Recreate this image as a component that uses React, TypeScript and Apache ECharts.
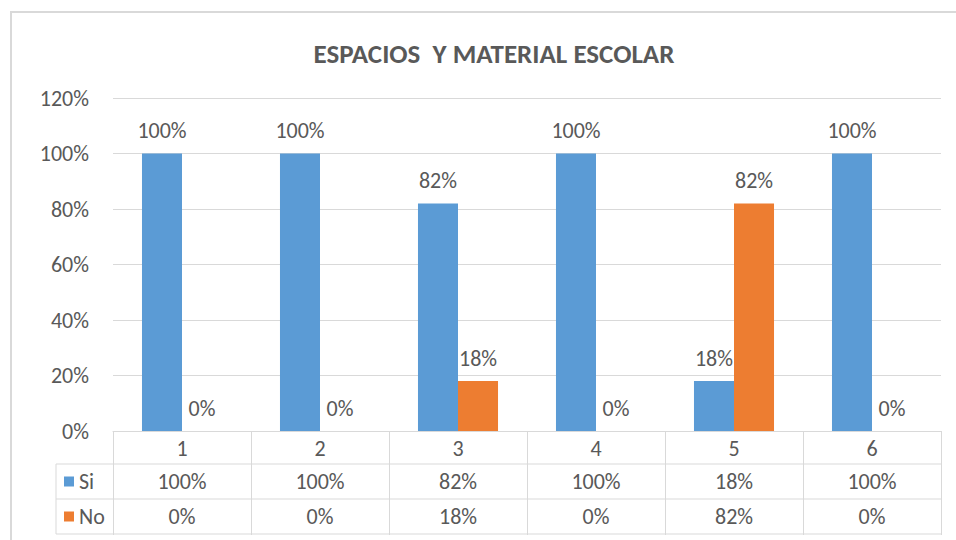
import React, { useEffect, useRef } from "react";
import * as echarts from "echarts";

const titleText = "ESPACIOS  Y MATERIAL ESCOLAR";
const categories = ["1", "2", "3", "4", "5", "6"];
const seriesNames = ["Si", "No"];
const siValues = [100, 100, 82, 100, 18, 100];
const noValues = [0, 0, 18, 0, 82, 0];
const colors = ["#5B9BD5", "#ED7D31"];

const FONT = "Carlito, Lato, 'Open Sans', sans-serif";
const TXT = "#595959";
const LINE = "#D9D9D9";
const FS = 22;

export default function App() {
  const ref = useRef<HTMLDivElement>(null);
  useEffect(() => {
    if (!ref.current) return;
    const chart = echarts.init(ref.current, undefined, { renderer: "svg" });
    const gridLeft = 113;
    const gridRight = 15;
    const gridTop = 98;
    const gridBottom = 109;
    const baseY = 540 - gridBottom;
    const rowH = 35;
    const tableTop = baseY + 33;
    const legendLeft = 56;
    const label = {
      show: true,
      position: "top" as const,
      distance: 12,
      formatter: (p: any) => p.value + "%",
      color: TXT,
      fontSize: FS,
      fontFamily: FONT,
    };
    chart.setOption({
      animation: false,
      backgroundColor: "#fff",
      textStyle: { fontFamily: FONT },
      title: {
        text: titleText,
        left: 489,
        top: 35,
        textAlign: "center",
        textStyle: { fontSize: 27, fontWeight: "bold", color: TXT, fontFamily: FONT },
      },
      grid: { left: gridLeft, right: gridRight, top: gridTop, bottom: gridBottom, containLabel: false },
      xAxis: {
        type: "category",
        data: categories,
        boundaryGap: true,
        axisLine: { show: true, lineStyle: { color: LINE, width: 1 } },
        axisTick: { show: true, length: 104, lineStyle: { color: LINE, width: 1 } },
        axisLabel: { color: TXT, fontSize: FS, fontFamily: FONT, margin: 6 },
      },
      yAxis: {
        type: "value",
        min: 0,
        max: 120,
        interval: 20,
        axisLine: { show: false },
        axisTick: { show: false },
        axisLabel: { formatter: "{value}%", color: TXT, fontSize: FS, fontFamily: FONT, margin: 24 },
        splitLine: { lineStyle: { color: LINE, width: 1 } },
      },
      series: [
        {
          name: seriesNames[0],
          type: "bar",
          data: siValues,
          itemStyle: { color: colors[0] },
          barGap: "0%",
          barCategoryGap: "42%",
          label,
        },
        {
          name: seriesNames[1],
          type: "bar",
          data: noValues,
          itemStyle: { color: colors[1] },
          barGap: "0%",
          barCategoryGap: "42%",
          label,
        },
      ],
    });

    const xs = categories.map((_, i) => chart.convertToPixel({ xAxisIndex: 0 }, i) as number);
    const rightX = 956 - gridRight;
    const g: any[] = [];
    g.push({
      type: "rect",
      shape: { x: 11, y: 12, width: 960, height: 560 },
      style: { fill: "none", stroke: LINE, lineWidth: 2 },
      silent: true,
    });
    [tableTop, tableTop + rowH, tableTop + 2 * rowH].forEach((y) => {
      g.push({
        type: "line",
        shape: { x1: legendLeft, y1: y, x2: rightX, y2: y },
        style: { stroke: LINE, lineWidth: 1 },
      });
    });
    g.push({
      type: "line",
      shape: { x1: legendLeft, y1: tableTop, x2: legendLeft, y2: tableTop + 2 * rowH },
      style: { stroke: LINE, lineWidth: 1 },
    });
    const rows = [siValues, noValues];
    rows.forEach((vals, r) => {
      const cy = tableTop + rowH * r + rowH / 2;
      g.push({
        type: "rect",
        shape: { x: 64, y: cy - 5, width: 10, height: 10 },
        style: { fill: colors[r] },
      });
      g.push({
        type: "text",
        x: 79,
        y: cy,
        style: { text: seriesNames[r], fill: TXT, fontSize: FS, fontFamily: FONT, verticalAlign: "middle", align: "left" },
      });
      vals.forEach((v, i) => {
        g.push({
          type: "text",
          x: xs[i],
          y: cy,
          style: { text: v + "%", fill: TXT, fontSize: FS, fontFamily: FONT, align: "center", verticalAlign: "middle" },
        });
      });
    });
    chart.setOption({ graphic: g });
    return () => chart.dispose();
  }, []);
  return (
    <div
      ref={ref}
      style={{ position: "fixed", left: 0, top: 0, width: 956, height: 540 }}
    />
  );
}
